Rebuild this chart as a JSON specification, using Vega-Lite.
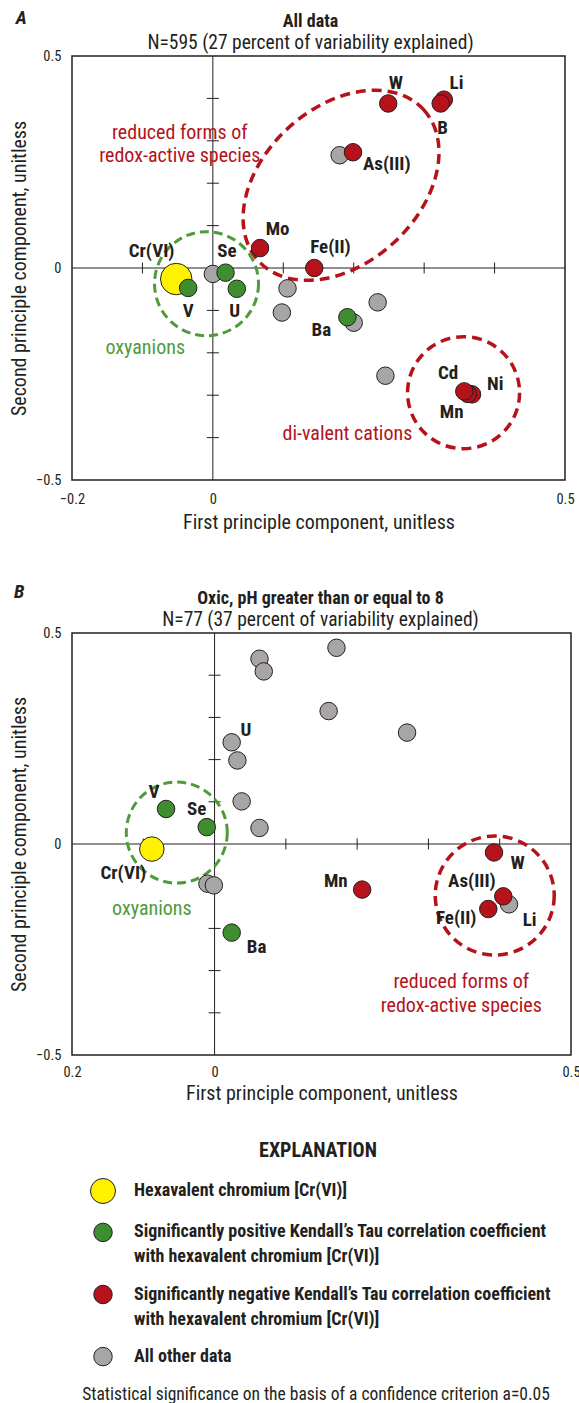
{
  "$schema": "https://vega.github.io/schema/vega-lite/v6.json",
  "padding": {"left": 8, "top": 8, "right": 0, "bottom": 0},
  "background": "white",
  "config": {
    "font": "Roboto Condensed, Liberation Sans Narrow, Roboto, sans-serif",
    "view": {"stroke": "#231f20", "strokeWidth": 1.5},
    "axis": {"labelColor": "#231f20", "titleColor": "#231f20", "labelFontSize": 14.5, "titleFontSize": 20, "titleFontWeight": "normal", "grid": false, "ticks": false, "domain": false, "labelFlush": false},
    "title": {"color": "#231f20", "subtitleColor": "#231f20"}
  },
  "datasets": {
    "tx": [{"x": -0.1, "y": 0}, {"x": 0.1, "y": 0}, {"x": 0.2, "y": 0}, {"x": 0.3, "y": 0}, {"x": 0.4, "y": 0}],
    "ty": [{"x": 0, "y": 0.4}, {"x": 0, "y": 0.3}, {"x": 0, "y": 0.2}, {"x": 0, "y": 0.1}, {"x": 0, "y": -0.1}, {"x": 0, "y": -0.2}, {"x": 0, "y": -0.3}, {"x": 0, "y": -0.4}],
    "vline": [{"x": 0, "y": -0.5, "y2": 0.5}],
    "hline": [{"x": -0.2, "x2": 0.5, "y": 0}],
    "pointsA": [
      {"x": -0.052, "y": -0.026, "cat": "hex", "name": "Cr(VI)"},
      {"x": 0.0, "y": -0.014, "cat": "oth"},
      {"x": 0.180, "y": 0.266, "cat": "oth"},
      {"x": 0.106, "y": -0.048, "cat": "oth"},
      {"x": 0.098, "y": -0.105, "cat": "oth"},
      {"x": 0.234, "y": -0.081, "cat": "oth"},
      {"x": 0.200, "y": -0.129, "cat": "oth"},
      {"x": 0.245, "y": -0.254, "cat": "oth"},
      {"x": -0.035, "y": -0.047, "cat": "pos", "name": "V"},
      {"x": 0.018, "y": -0.011, "cat": "pos", "name": "Se"},
      {"x": 0.034, "y": -0.049, "cat": "pos", "name": "U"},
      {"x": 0.191, "y": -0.116, "cat": "pos", "name": "Ba"},
      {"x": 0.249, "y": 0.388, "cat": "neg", "name": "W"},
      {"x": 0.328, "y": 0.397, "cat": "neg", "name": "Li"},
      {"x": 0.3235, "y": 0.388, "cat": "neg", "name": "B"},
      {"x": 0.199, "y": 0.273, "cat": "neg", "name": "As(III)"},
      {"x": 0.067, "y": 0.047, "cat": "neg", "name": "Mo"},
      {"x": 0.144, "y": 0.0, "cat": "neg", "name": "Fe(II)"},
      {"x": 0.368, "y": -0.298, "cat": "neg", "name": "Ni"},
      {"x": 0.362, "y": -0.297, "cat": "neg", "name": "Mn"},
      {"x": 0.357, "y": -0.291, "cat": "neg", "name": "Cd"}
    ],
    "labelsA": [
      {"x": 0.26, "y": 0.437, "label": "W"},
      {"x": 0.346, "y": 0.437, "label": "Li"},
      {"x": 0.326, "y": 0.331, "label": "B"},
      {"x": 0.247, "y": 0.246, "label": "As(III)"},
      {"x": 0.092, "y": 0.092, "label": "Mo"},
      {"x": 0.167, "y": 0.049, "label": "Fe(II)"},
      {"x": -0.087, "y": 0.040, "label": "Cr(VI)"},
      {"x": 0.020, "y": 0.039, "label": "Se"},
      {"x": -0.035, "y": -0.102, "label": "V"},
      {"x": 0.031, "y": -0.102, "label": "U"},
      {"x": 0.154, "y": -0.146, "label": "Ba"},
      {"x": 0.334, "y": -0.247, "label": "Cd"},
      {"x": 0.401, "y": -0.273, "label": "Ni"},
      {"x": 0.339, "y": -0.340, "label": "Mn"}
    ],
    "groupsA": [
      {"x": -0.047, "y": 0.319, "cat": "gneg", "label": "reduced forms of"},
      {"x": -0.047, "y": 0.264, "cat": "gneg", "label": "redox-active species"},
      {"x": -0.096, "y": -0.189, "cat": "gpos", "label": "oxyanions"},
      {"x": 0.191, "y": -0.391, "cat": "gneg", "label": "di-valent cations"}
    ],
    "pointsB": [
      {"x": -0.088, "y": -0.012, "cat": "hex", "name": "Cr(VI)"},
      {"x": 0.063, "y": 0.439, "cat": "oth"},
      {"x": 0.069, "y": 0.409, "cat": "oth"},
      {"x": 0.171, "y": 0.465, "cat": "oth"},
      {"x": 0.160, "y": 0.315, "cat": "oth"},
      {"x": 0.270, "y": 0.264, "cat": "oth"},
      {"x": 0.024, "y": 0.241, "cat": "oth", "name": "U"},
      {"x": 0.032, "y": 0.198, "cat": "oth"},
      {"x": 0.038, "y": 0.101, "cat": "oth"},
      {"x": 0.063, "y": 0.038, "cat": "oth"},
      {"x": -0.010, "y": -0.094, "cat": "oth"},
      {"x": -0.001, "y": -0.098, "cat": "oth"},
      {"x": 0.413, "y": -0.143, "cat": "oth", "name": "Li"},
      {"x": -0.068, "y": 0.083, "cat": "pos", "name": "V"},
      {"x": -0.011, "y": 0.040, "cat": "pos", "name": "Se"},
      {"x": 0.024, "y": -0.210, "cat": "pos", "name": "Ba"},
      {"x": 0.207, "y": -0.108, "cat": "neg", "name": "Mn"},
      {"x": 0.392, "y": -0.020, "cat": "neg", "name": "W"},
      {"x": 0.405, "y": -0.124, "cat": "neg", "name": "As(III)"},
      {"x": 0.384, "y": -0.154, "cat": "neg", "name": "Fe(II)"}
    ],
    "labelsB": [
      {"x": 0.044, "y": 0.271, "label": "U"},
      {"x": -0.085, "y": 0.124, "label": "V"},
      {"x": -0.025, "y": 0.083, "label": "Se"},
      {"x": -0.128, "y": -0.068, "label": "Cr(VI)"},
      {"x": 0.059, "y": -0.244, "label": "Ba"},
      {"x": 0.170, "y": -0.088, "label": "Mn"},
      {"x": 0.425, "y": -0.045, "label": "W"},
      {"x": 0.361, "y": -0.088, "label": "As(III)"},
      {"x": 0.442, "y": -0.179, "label": "Li"},
      {"x": 0.339, "y": -0.175, "label": "Fe(II)"}
    ],
    "groupsB": [
      {"x": -0.088, "y": -0.155, "cat": "gpos", "label": "oxyanions"},
      {"x": 0.346, "y": -0.328, "cat": "gneg", "label": "reduced forms of"},
      {"x": 0.346, "y": -0.383, "cat": "gneg", "label": "redox-active species"}
    ],
    "legend": [
      {"cat": "hex", "t": "Hexavalent chromium [Cr(VI)]"},
      {"cat": "pos", "t": "Significantly positive Kendall’s Tau correlation coefficient\n    with hexavalent chromium [Cr(VI)]"},
      {"cat": "neg", "t": "Significantly negative Kendall’s Tau correlation coefficient\n    with hexavalent chromium [Cr(VI)]"},
      {"cat": "oth", "t": "All other data"},
      {"cat": "foot", "t": "Statistical significance on the basis of a confidence criterion a=0.05"}
    ]
  },
  "vconcat": [
    {
      "spacing": 48,
      "vconcat": [
        {
          "width": 493,
          "height": 424,
          "title": {"text": "All data", "subtitle": "N=595 (27 percent of variability explained)", "fontSize": 18, "fontWeight": "bold", "subtitleFontSize": 19.5, "anchor": "middle", "frame": "group", "dx": -8, "dy": 48, "offset": 4, "subtitlePadding": 3},
          "encoding": {
            "x": {"field": "x", "type": "quantitative", "scale": {"domain": [-0.2, 0.5], "nice": false, "zero": false}, "axis": {"values": [-0.2, 0, 0.5], "format": "~g", "labelPadding": 12, "title": "First principle component, unitless", "titlePadding": 7}},
            "y": {"field": "y", "type": "quantitative", "scale": {"domain": [-0.5, 0.5], "nice": false, "zero": false}, "axis": {"values": [-0.5, 0, 0.5], "format": "~g", "labelPadding": 11, "title": "Second principle component, unitless", "titlePadding": 6}}
          },
          "layer": [
            {"data": {"name": "vline"}, "mark": {"type": "rule", "color": "#231f20", "strokeWidth": 1}, "encoding": {"y2": {"field": "y2"}}},
            {"data": {"name": "hline"}, "mark": {"type": "rule", "color": "#231f20", "strokeWidth": 1}, "encoding": {"x2": {"field": "x2"}}},
            {"data": {"name": "tx"}, "mark": {"type": "tick", "orient": "vertical", "color": "#231f20", "size": 11, "thickness": 1, "opacity": 1}},
            {"data": {"name": "ty"}, "mark": {"type": "tick", "orient": "horizontal", "color": "#231f20", "size": 12, "thickness": 1, "opacity": 1}},
            {"data": {"values": [{"x": 0.182, "y": 0.195, "cat": "gneg"}]}, "mark": {"type": "point", "filled": false, "opacity": 1, "shape": "M1,0C1,0.3844,0.5523,0.696,0,0.696C-0.5523,0.696,-1,0.3844,-1,0C-1,-0.3844,-0.5523,-0.696,0,-0.696C0.5523,-0.696,1,-0.3844,1,0Z", "size": 50176, "angle": 317.5, "strokeWidth": 3.5, "strokeDash": [10, 6]},
             "encoding": {"color": {"field": "cat", "type": "nominal", "scale": {"domain": ["hex", "pos", "neg", "oth", "gpos", "gneg"], "range": ["#fff200", "#3e8e2f", "#b5121b", "#a7a5a6", "#4f9b3c", "#b5121b"]}, "legend": null}}},
            {"data": {"values": [{"x": 0.356, "y": -0.294, "cat": "gneg"}]}, "mark": {"type": "point", "filled": false, "opacity": 1, "shape": "circle", "size": 12544, "strokeWidth": 3.5, "strokeDash": [10, 6]},
             "encoding": {"color": {"field": "cat", "type": "nominal", "scale": {"domain": ["hex", "pos", "neg", "oth", "gpos", "gneg"], "range": ["#fff200", "#3e8e2f", "#b5121b", "#a7a5a6", "#4f9b3c", "#b5121b"]}, "legend": null}}},
            {"data": {"values": [{"x": -0.009, "y": -0.037, "cat": "gpos"}]}, "mark": {"type": "point", "filled": false, "opacity": 1, "shape": "circle", "size": 10816, "strokeWidth": 3, "strokeDash": [9, 5]},
             "encoding": {"color": {"field": "cat", "type": "nominal", "scale": {"domain": ["hex", "pos", "neg", "oth", "gpos", "gneg"], "range": ["#fff200", "#3e8e2f", "#b5121b", "#a7a5a6", "#4f9b3c", "#b5121b"]}, "legend": null}}},
            {"data": {"name": "pointsA"}, "mark": {"type": "point", "filled": true, "opacity": 1, "stroke": "#231f20", "strokeWidth": 1},
             "encoding": {
               "color": {"field": "cat", "type": "nominal", "scale": {"domain": ["hex", "pos", "neg", "oth", "gpos", "gneg"], "range": ["#fff200", "#3e8e2f", "#b5121b", "#a7a5a6", "#4f9b3c", "#b5121b"]}, "legend": null},
               "size": {"condition": {"test": "datum.cat == 'hex'", "value": 992}, "value": 306}
             }},
            {"data": {"name": "labelsA"}, "mark": {"type": "text", "fontWeight": "bold", "fontSize": 19, "color": "#231f20", "align": "center", "baseline": "middle", "clip": false}, "encoding": {"text": {"field": "label"}}},
            {"data": {"name": "groupsA"}, "mark": {"type": "text", "fontSize": 20, "align": "center", "baseline": "middle", "clip": false},
             "encoding": {"text": {"field": "label"}, "color": {"field": "cat", "type": "nominal", "scale": {"domain": ["hex", "pos", "neg", "oth", "gpos", "gneg"], "range": ["#fff200", "#3e8e2f", "#b5121b", "#a7a5a6", "#4f9b3c", "#b5121b"]}, "legend": null}}},
            {"data": {"values": [{"x": -0.272, "y": 0.59, "label": "A"}]}, "mark": {"type": "text", "fontWeight": "bold", "fontStyle": "italic", "fontSize": 19, "color": "#231f20", "align": "center", "baseline": "middle", "clip": false}, "encoding": {"text": {"field": "label"}}}
          ]
        },
        {
          "width": 499,
          "height": 422,
          "title": {"text": "Oxic, pH greater than or equal to 8", "subtitle": "N=77 (37 percent of variability explained)", "fontSize": 18, "fontWeight": "bold", "subtitleFontSize": 19.5, "anchor": "middle", "frame": "group", "dx": -1, "dy": 50, "offset": 4, "subtitlePadding": 3},
          "encoding": {
            "x": {"field": "x", "type": "quantitative", "scale": {"domain": [-0.2, 0.5], "nice": false, "zero": false}, "axis": {"values": [-0.2, 0, 0.5], "format": "~g", "labelExpr": "datum.value == -0.2 ? '\u20030.2' : datum.label", "labelPadding": 10, "title": "First principle component, unitless", "titlePadding": 5}},
            "y": {"field": "y", "type": "quantitative", "scale": {"domain": [-0.5, 0.5], "nice": false, "zero": false}, "axis": {"values": [-0.5, 0, 0.5], "format": "~g", "labelPadding": 11, "title": "Second principle component, unitless", "titlePadding": 6}}
          },
          "layer": [
            {"data": {"name": "vline"}, "mark": {"type": "rule", "color": "#231f20", "strokeWidth": 1}, "encoding": {"y2": {"field": "y2"}}},
            {"data": {"name": "hline"}, "mark": {"type": "rule", "color": "#231f20", "strokeWidth": 1}, "encoding": {"x2": {"field": "x2"}}},
            {"data": {"name": "tx"}, "mark": {"type": "tick", "orient": "vertical", "color": "#231f20", "size": 11, "thickness": 1, "opacity": 1}},
            {"data": {"name": "ty"}, "mark": {"type": "tick", "orient": "horizontal", "color": "#231f20", "size": 12, "thickness": 1, "opacity": 1}},
            {"data": {"values": [{"x": 0.393, "y": -0.122, "cat": "gneg"}]}, "mark": {"type": "point", "filled": false, "opacity": 1, "shape": "circle", "size": 14161, "strokeWidth": 3.5, "strokeDash": [10, 6]},
             "encoding": {"color": {"field": "cat", "type": "nominal", "scale": {"domain": ["hex", "pos", "neg", "oth", "gpos", "gneg"], "range": ["#fff200", "#3e8e2f", "#b5121b", "#a7a5a6", "#4f9b3c", "#b5121b"]}, "legend": null}}},
            {"data": {"values": [{"x": -0.053, "y": 0.027, "cat": "gpos"}]}, "mark": {"type": "point", "filled": false, "opacity": 1, "shape": "circle", "size": 10201, "strokeWidth": 3, "strokeDash": [9, 5]},
             "encoding": {"color": {"field": "cat", "type": "nominal", "scale": {"domain": ["hex", "pos", "neg", "oth", "gpos", "gneg"], "range": ["#fff200", "#3e8e2f", "#b5121b", "#a7a5a6", "#4f9b3c", "#b5121b"]}, "legend": null}}},
            {"data": {"name": "pointsB"}, "mark": {"type": "point", "filled": true, "opacity": 1, "stroke": "#231f20", "strokeWidth": 1},
             "encoding": {
               "color": {"field": "cat", "type": "nominal", "scale": {"domain": ["hex", "pos", "neg", "oth", "gpos", "gneg"], "range": ["#fff200", "#3e8e2f", "#b5121b", "#a7a5a6", "#4f9b3c", "#b5121b"]}, "legend": null},
               "size": {"condition": {"test": "datum.cat == 'hex'", "value": 600}, "value": 306}
             }},
            {"data": {"name": "labelsB"}, "mark": {"type": "text", "fontWeight": "bold", "fontSize": 19, "color": "#231f20", "align": "center", "baseline": "middle", "clip": false}, "encoding": {"text": {"field": "label"}}},
            {"data": {"name": "groupsB"}, "mark": {"type": "text", "fontSize": 20, "align": "center", "baseline": "middle", "clip": false},
             "encoding": {"text": {"field": "label"}, "color": {"field": "cat", "type": "nominal", "scale": {"domain": ["hex", "pos", "neg", "oth", "gpos", "gneg"], "range": ["#fff200", "#3e8e2f", "#b5121b", "#a7a5a6", "#4f9b3c", "#b5121b"]}, "legend": null}}},
            {"data": {"values": [{"x": -0.274, "y": 0.597, "label": "B"}]}, "mark": {"type": "text", "fontWeight": "bold", "fontStyle": "italic", "fontSize": 19, "color": "#231f20", "align": "center", "baseline": "middle", "clip": false}, "encoding": {"text": {"field": "label"}}}
          ]
        }
      ]
    },
    {
      "width": 62,
      "height": 207,
      "view": {"stroke": null},
      "title": {"text": "EXPLANATION", "fontSize": 20, "fontWeight": "bold", "anchor": "middle", "frame": "group", "dx": 215, "offset": 16},
      "data": {"name": "legend"},
      "encoding": {
        "y": {"field": "cat", "type": "nominal", "scale": {"type": "point", "domain": ["hex", "s1", "pos", "s2", "s3", "neg", "s4", "s5", "oth", "s6", "foot"], "padding": 0}, "axis": null}
      },
      "layer": [
        {"transform": [{"filter": "datum.cat != 'foot'"}], "mark": {"type": "point", "filled": true, "opacity": 1, "stroke": "#231f20", "strokeWidth": 1},
         "encoding": {
           "color": {"field": "cat", "type": "nominal", "scale": {"domain": ["hex", "pos", "neg", "oth", "gpos", "gneg"], "range": ["#fff200", "#3e8e2f", "#b5121b", "#a7a5a6", "#4f9b3c", "#b5121b"]}, "legend": null},
           "size": {"condition": {"test": "datum.cat == 'hex'", "value": 625}, "value": 342}
         }},
        {"transform": [{"filter": "datum.cat != 'foot'"}], "mark": {"type": "text", "align": "left", "baseline": "middle", "dx": 31, "fontWeight": "bold", "fontSize": 18, "lineBreak": "\n", "lineHeight": 25, "color": "#231f20"}, "encoding": {"text": {"field": "t"}}},
        {"transform": [{"filter": "datum.cat == 'foot'"}], "mark": {"type": "text", "align": "center", "baseline": "middle", "dx": 213, "dy": -3, "fontSize": 17.5, "color": "#231f20"}, "encoding": {"text": {"field": "t"}}}
      ]
    }
  ],
  "spacing": 35
}
